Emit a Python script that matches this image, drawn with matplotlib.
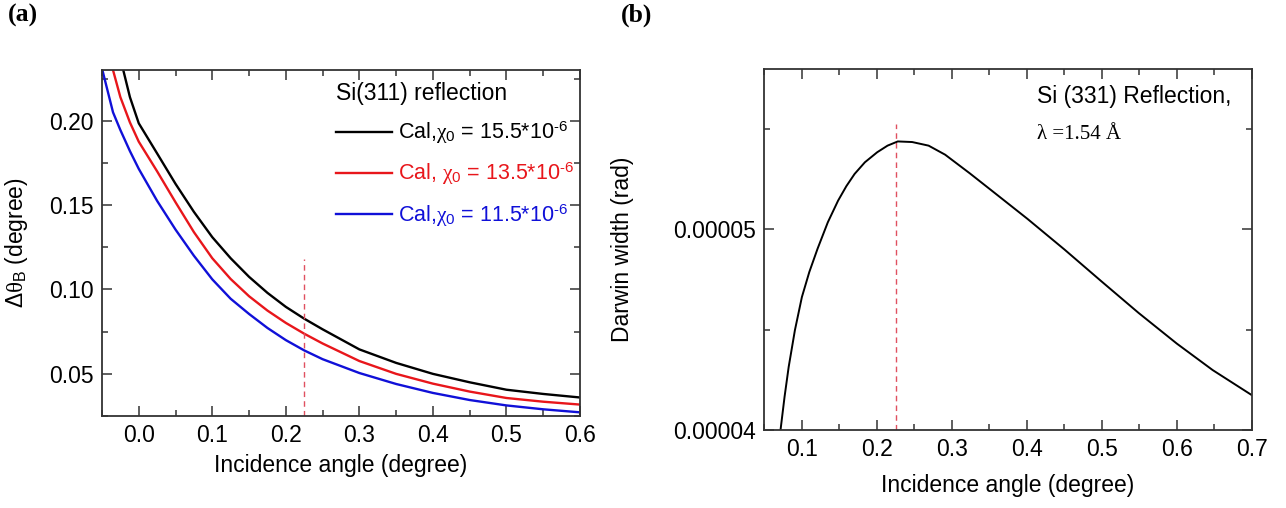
import numpy as np
import matplotlib.pyplot as plt
from matplotlib.ticker import MultipleLocator, FormatStrFormatter

plt.rcParams['font.family'] = ['Liberation Sans', 'DejaVu Sans']
plt.rcParams['mathtext.fontset'] = 'custom'
plt.rcParams['mathtext.rm'] = 'Liberation Sans'
plt.rcParams['mathtext.it'] = 'Liberation Serif'

# panel (a): Si(311) Bragg width vs incidence angle
angle_a = [-0.05, -0.035, -0.025, -0.012, 0.0, 0.025, 0.05, 0.075, 0.1, 0.125,
           0.15, 0.175, 0.2, 0.225, 0.25, 0.3, 0.35, 0.4, 0.45, 0.5, 0.55, 0.6]
width_155 = [0.285, 0.262, 0.237, 0.214, 0.1985, 0.1806, 0.1626, 0.146, 0.131, 0.1185,
             0.1075, 0.098, 0.0897, 0.0827, 0.0764, 0.0645, 0.0565, 0.050, 0.045,
             0.0406, 0.0381, 0.036]
width_135 = [0.256, 0.230, 0.214, 0.199, 0.1876, 0.170, 0.1517, 0.134, 0.1185, 0.1062,
             0.096, 0.0875, 0.0802, 0.0738, 0.068, 0.0576, 0.050, 0.0442, 0.0395,
             0.0357, 0.0335, 0.0318]
width_115 = [0.231, 0.205, 0.1945, 0.182, 0.1715, 0.1525, 0.1355, 0.120, 0.106, 0.0945,
             0.0855, 0.0772, 0.070, 0.0639, 0.0587, 0.0505, 0.044, 0.0387, 0.0345,
             0.0313, 0.029, 0.0272]
labels_a = [r'Cal,$\chi_0$ = 15.5*10$^{‐6}$',
            r'Cal, $\chi_0$ = 13.5*10$^{‐6}$',
            r'Cal,$\chi_0$ = 11.5*10$^{‐6}$']
colors_a = ['black', '#e8161b', '#1010d8']

# panel (b): Si(331) Darwin width (units of 1e-5 rad)
angle_b = [0.0715, 0.0769, 0.0824, 0.0907, 0.1, 0.1099, 0.1209, 0.1346, 0.1483,
           0.1593, 0.1703, 0.184, 0.2004, 0.2142, 0.2279, 0.2471, 0.269, 0.291,
           0.3239, 0.3514, 0.4008, 0.4502, 0.4996, 0.549, 0.6, 0.6478, 0.7]
darwin = [4.0, 4.166, 4.315, 4.498, 4.663, 4.788, 4.904, 5.036, 5.144,
          5.216, 5.277, 5.335, 5.385, 5.418, 5.439, 5.436, 5.418, 5.373,
          5.280, 5.199, 5.053, 4.900, 4.741, 4.584, 4.431, 4.299, 4.174]
darwin = [d * 1e-5 for d in darwin]

crit_angle = 0.225

fig = plt.figure(figsize=(12.86, 5.08), dpi=100)
ax1 = fig.add_axes([0.0793, 0.181, 0.3717, 0.681])
ax2 = fig.add_axes([0.5944, 0.1535, 0.379, 0.7106])


def style(ax):
    for s in ax.spines.values():
        s.set_linewidth(1.3)
        s.set_color('#333333')
    ax.tick_params(which='both', direction='in', top=True, right=True,
                   labelsize=16.5, color='#333333', width=1.1)
    ax.tick_params(which='major', length=7, pad=6)
    ax.tick_params(which='minor', length=4)


for y, lab, c in zip([width_155, width_135, width_115], labels_a, colors_a):
    ax1.plot(angle_a, y, color=c, lw=1.7, label=lab)
ax1.plot([crit_angle, crit_angle], [0.025, 0.118], color='#e05060', lw=1,
         dashes=(4, 3))
ax1.set_xlim(-0.05, 0.6)
ax1.set_ylim(0.025, 0.23)
ax1.xaxis.set_major_locator(MultipleLocator(0.1))
ax1.xaxis.set_minor_locator(MultipleLocator(0.05))
ax1.yaxis.set_major_locator(MultipleLocator(0.05))
ax1.yaxis.set_minor_locator(MultipleLocator(0.025))
ax1.xaxis.set_major_formatter(FormatStrFormatter('%.1f'))
ax1.yaxis.set_major_formatter(FormatStrFormatter('%.2f'))
style(ax1)
ax1.set_xlabel('Incidence angle (degree)', fontsize=16.5, labelpad=5)
ax1.set_ylabel(r'$\Delta\theta_{\mathrm{B}}$ (degree)', fontsize=16.5)
ax1.yaxis.set_label_coords(-0.15, 0.5)
leg = ax1.legend(loc='upper left', frameon=False, fontsize=15.5,
                 title='Si(311) reflection', title_fontsize=16.5,
                 alignment='left', handlelength=2.6, handletextpad=0.25,
                 labelspacing=0.68, borderpad=0, borderaxespad=0,
                 labelcolor='linecolor', bbox_to_anchor=(0.49, 0.965))

ax2.plot(angle_b, darwin, color='black', lw=1.4)
ax2.plot([crit_angle, crit_angle], [4.0e-5, 5.527e-5], color='#e05060', lw=1,
         dashes=(4, 3))
ax2.set_xlim(0.05, 0.7)
ax2.set_ylim(4.0e-5, 5.8e-5)
ax2.xaxis.set_major_locator(MultipleLocator(0.1))
ax2.xaxis.set_minor_locator(MultipleLocator(0.05))
ax2.yaxis.set_major_locator(MultipleLocator(1e-5))
ax2.yaxis.set_minor_locator(MultipleLocator(0.5e-5))
ax2.xaxis.set_major_formatter(FormatStrFormatter('%.1f'))
ax2.yaxis.set_major_formatter(FormatStrFormatter('%.5f'))
style(ax2)
ax2.set_xlabel('Incidence angle (degree)', fontsize=16.5, labelpad=9)
ax2.set_ylabel('Darwin width (rad)', fontsize=16.5)
ax2.yaxis.set_label_coords(-0.267, 0.5)
ax2.text(0.56, 0.925, 'Si (331) Reflection,', transform=ax2.transAxes,
         fontsize=16.5, va='center', ha='left')
ax2.text(0.56, 0.82, 'λ =1.54 Å', transform=ax2.transAxes,
         fontsize=15, va='center', ha='left', family='Liberation Serif')

fig.text(0.006, 0.97, '(a)', fontsize=18.5, fontweight='bold',
         family='Liberation Serif', va='center')
fig.text(0.483, 0.97, '(b)', fontsize=18.5, fontweight='bold',
         family='Liberation Serif', va='center')

fig.savefig('out.png', dpi=100)
